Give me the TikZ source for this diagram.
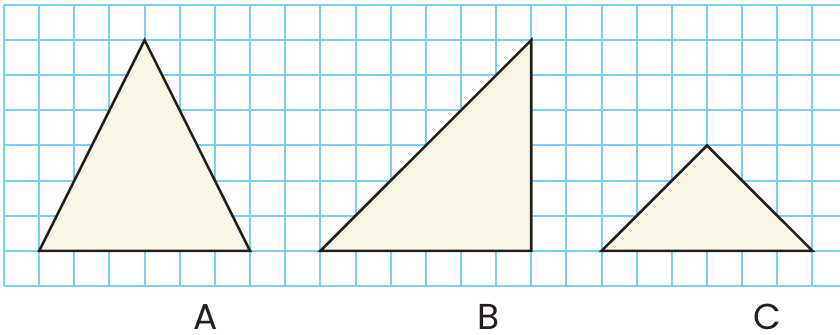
\documentclass[tikz,border=0pt]{standalone}
\usepackage{fontspec}
\setmainfont{Poppins}
\definecolor{gridblue}{RGB}{125,206,245}
\definecolor{cream}{RGB}{251,247,230}
\definecolor{ink}{RGB}{35,31,32}
\begin{document}
\begin{tikzpicture}[x=0.75pt,y=-0.75pt,
  gridline/.style={gridblue,line width=1.5pt},
  tri/.style={fill=cream,draw=ink,line width=1.9pt,line join=miter},
  lbl/.style={anchor=base,inner sep=0pt,text=ink,font=\fontsize{27}{30}\selectfont}]
\useasboundingbox (0,0) rectangle (840,335);
\foreach \i in {0,...,23} {
  \draw[gridline] ({4+35.15*\i},5) -- ({4+35.15*\i},286);
}
\foreach \j in {0,...,8} {
  \draw[gridline] (4,{5+35.125*\j}) -- (840,{5+35.125*\j});
}
% triangle A
\coordinate (a1) at (39.15,250.9);
\coordinate (a2) at (250.05,250.9);
\coordinate (a3) at (144.6,40.1);
\draw[tri] (a1) -- (a2) -- (a3) -- cycle;
% triangle B
\coordinate (b1) at (320.35,250.9);
\coordinate (b2) at (531.25,250.9);
\coordinate (b3) at (531.25,40.1);
\draw[tri] (b1) -- (b2) -- (b3) -- cycle;
% triangle C
\coordinate (c1) at (601.55,250.9);
\coordinate (c2) at (812.45,250.9);
\coordinate (c3) at (707.0,145.5);
\draw[tri] (c1) -- (c2) -- (c3) -- cycle;
\node[lbl] (la) at (205.5,329.3) {A};
\node[lbl] (lb) at (488.5,329.3) {B};
\node[lbl] (lc) at (767.5,329.3) {C};
\end{tikzpicture}
\end{document}
